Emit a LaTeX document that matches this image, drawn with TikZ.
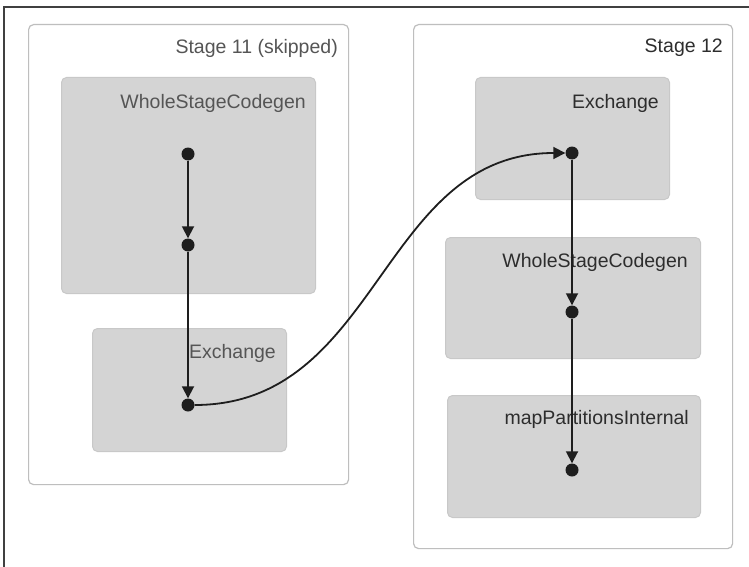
\documentclass[tikz,border=0pt]{standalone}
\usepackage{fontspec}
\setmainfont{Liberation Sans}
\usetikzlibrary{arrows.meta}
\definecolor{boxfill}{RGB}{212,212,212}
\definecolor{boxline}{RGB}{200,200,200}
\definecolor{stageline}{RGB}{190,190,190}
\definecolor{edgecol}{RGB}{30,30,30}
\definecolor{txtdark}{RGB}{45,45,45}
\definecolor{txtlight}{RGB}{85,85,85}
\tikzset{
  stagebox/.style={draw=stageline, line width=1.2pt, fill=white, rounded corners=5pt, inner sep=0pt, anchor=north west},
  opbox/.style={draw=boxline, line width=1pt, fill=boxfill, rounded corners=5pt, inner sep=0pt, anchor=north west},
  lbl/.style={anchor=east, inner sep=0pt, font=\fontsize{19.5}{21}\selectfont},
  dot/.style={circle, fill=edgecol, inner sep=0pt, minimum size=13pt},
  arr/.style={draw=edgecol, line width=1.8pt, -{Triangle[length=12pt,width=12pt]}},
}
\begin{document}
\begin{tikzpicture}[x=1pt,y=-1pt]
\useasboundingbox (0,0) rectangle (749,567);
\fill[white] (0,0) rectangle (749,567);
\draw[line width=1.6pt, color=black!75] (4,567) -- (4,7) -- (749,7);
% Stage 11
\node[stagebox, minimum width=320pt, minimum height=460pt] (s11) at (28,24) {};
\node[lbl, text=txtlight] (s11l) at (338,48) {Stage 11 (skipped)};
\node[opbox, minimum width=254pt, minimum height=216pt] (w1) at (61,77) {};
\node[lbl, text=txtlight] (w1l) at (306,103) {WholeStageCodegen};
\node[opbox, minimum width=194pt, minimum height=123pt] (e1) at (92,328) {};
\node[lbl, text=txtlight] (e1l) at (276,353) {Exchange};
% Stage 12
\node[stagebox, minimum width=319pt, minimum height=524pt] (s12) at (413,24) {};
\node[lbl, text=txtdark] (s12l) at (723,48) {Stage 12};
\node[opbox, minimum width=194pt, minimum height=122pt] (e2) at (475,77) {};
\node[lbl, text=txtdark] (e2l) at (659,103) {Exchange};
\node[opbox, minimum width=255pt, minimum height=121pt] (w2) at (445,237) {};
\node[lbl, text=txtdark] (w2l) at (688,262) {WholeStageCodegen};
\node[opbox, minimum width=253pt, minimum height=122pt] (m2) at (447,395) {};
\node[lbl, text=txtdark] (m2l) at (689,419) {mapPartitionsInternal};
% dots
\node[dot] (d1) at (188,154) {};
\node[dot] (d2) at (188,245) {};
\node[dot] (d3) at (188,405) {};
\node[dot] (d4) at (572,153) {};
\node[dot] (d5) at (572,312) {};
\node[dot] (d6) at (572,470) {};
% edges
\draw[arr] (d1) -- (d2);
\draw[arr] (d2) -- (d3);
\draw[arr] (d3.east) .. controls (380,405) and (380,153) .. (d4.west);
\draw[arr] (d4) -- (d5);
\draw[arr] (d5) -- (d6);
\end{tikzpicture}
\end{document}
